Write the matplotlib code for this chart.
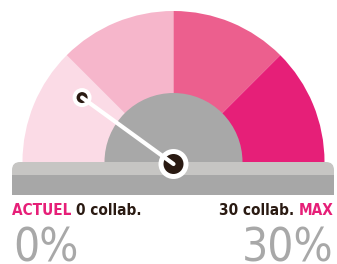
import numpy as np
import matplotlib
matplotlib.use("Agg")
import matplotlib.pyplot as plt
from matplotlib.patches import Wedge, Circle, Rectangle, FancyBboxPatch

# --- Données ---
segments = [1, 1, 1, 1]                      # 4 zones égales de la jauge
seg_colors = ["#fbdbe6", "#f6b6cb", "#ec5f8e", "#e61f78"]
needle_value = 0.2                            # position de l'aiguille (0 = gauche, 1 = droite)
left_label, left_count, left_pct = "ACTUEL", "0 collab.", "0%"
right_count, right_label, right_pct = "30 collab.", "MAX", "30%"

PINK, BROWN, GREY, BAR_L, BAR_D = "#e61f78", "#2a1a12", "#a8a8a8", "#c6c5c3", "#a7a7a7"
plt.rcParams["font.family"] = ["DejaVu Sans"]
plt.rcParams["font.stretch"] = "condensed"

W, H = 337, 264
fig = plt.figure(figsize=(W / 100, H / 100), dpi=100)
ax = fig.add_axes([0, 0, 1, 1])
ax.set_xlim(0, W); ax.set_ylim(0, H); ax.axis("off")

cx, cy = 173.5, H - 162
R, r_in = 151, 69

# zones de la jauge
bounds = np.cumsum([0] + segments) / sum(segments)
for i, col in enumerate(seg_colors):
    a1 = 180 - bounds[i + 1] * 180
    a2 = 180 - bounds[i] * 180
    ax.add_patch(Wedge((cx, cy), R, a1, a2, color=col, lw=0))
ax.add_patch(Wedge((cx, cy), r_in, 0, 180, color=GREY, lw=0))

# socle
ax.add_patch(FancyBboxPatch((12 + 8, H - 185 + 8), 322 - 16, 23 - 16,
                            boxstyle="round,pad=8", color=BAR_L, lw=0))
ax.add_patch(Rectangle((12, H - 195), 322, 20, color=BAR_D, lw=0))

# aiguille
px, py = cx, H - 164
ang = np.deg2rad(180 - needle_value * 180)
L = 113
tx, ty = px + L * np.cos(ang), py + L * np.sin(ang)
ax.plot([px, tx], [py, ty], color="white", lw=3, solid_capstyle="round")
ax.add_patch(Circle((tx, ty), 9.5, color="white", lw=0))
ax.add_patch(Circle((tx, ty), 5.5, color=BROWN, lw=0))
ax.add_patch(Circle((px, py), 15, color="white", lw=0))
ax.add_patch(Circle((px, py), 10, color=BROWN, lw=0))

# textes
fs = 11
t1 = ax.text(12, H - 215, left_label + " ", color=PINK, fontsize=fs, fontweight="bold", va="baseline")
ax.annotate(left_count, xy=(1, 0), xycoords=t1, color=BROWN, fontsize=fs, fontweight="bold", va="bottom")
t2 = ax.text(334, H - 215, right_label, color=PINK, fontsize=fs, fontweight="bold", ha="right", va="baseline")
ax.annotate(right_count + " ", xy=(0, 0), xycoords=t2, color=BROWN, fontsize=fs, fontweight="bold",
            ha="right", va="bottom")
ax.text(13, H - 261, left_pct, color=GREY, fontsize=33, va="baseline")
ax.text(333, H - 261, right_pct, color=GREY, fontsize=33, ha="right", va="baseline")

fig.savefig("out.png", dpi=100)
